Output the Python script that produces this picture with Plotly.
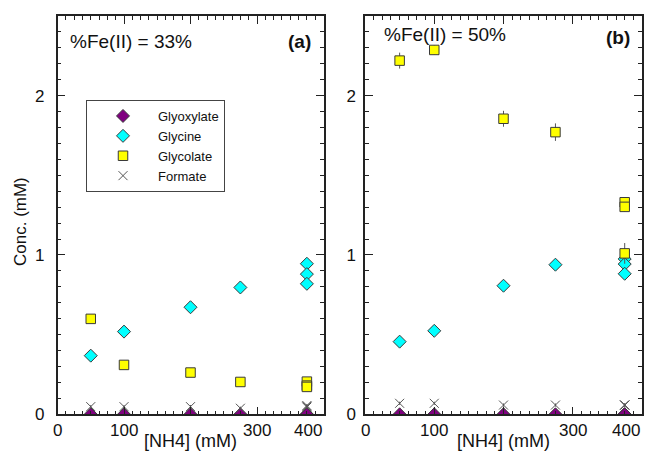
import plotly.graph_objects as go

# ---------------- data ----------------
nh4 = [50, 100, 200, 275, 375, 375, 375]

# panel (a) %Fe(II) = 33%
a_glyoxylate = [0, 0, 0, 0, 0, 0, 0]
a_glycine = [0.368, 0.519, 0.672, 0.796, 0.945, 0.880, 0.819]
a_glycolate = [0.599, 0.310, 0.262, 0.203, 0.205, 0.180, 0.172]
a_glycolate_err = [0.015, 0.015, 0.015, 0.015, 0.015, 0.015, 0.015]
a_formate = [0.048, 0.048, 0.048, 0.038, 0.055, 0.050, 0.045]
a_formate_err = [0.01, 0.01, 0.01, 0.01, 0.01, 0.01, 0.01]

# panel (b) %Fe(II) = 50%
b_glyoxylate = [0, 0, 0, 0, 0, 0, 0]
b_glycine = [0.456, 0.524, 0.807, 0.939, 0.975, 0.943, 0.882]
b_glycolate = [2.220, 2.287, 1.855, 1.771, 1.331, 1.302, 1.010]
b_glycolate_err = [0.050, 0.030, 0.050, 0.055, 0.020, 0.030, 0.065]
b_formate = [0.069, 0.069, 0.058, 0.058, 0.058, 0.058, 0.058]
b_formate_err = [0.01, 0.01, 0.01, 0.01, 0.01, 0.01, 0.01]

x_tick_vals = [0, 100, 300, 400]
x_tick_text = ["0", "100", "300", "400"]
y_tick_vals = [0, 1, 2]
y_tick_text = ["0", "1", "2"]

FONT = "Arial, Liberation Sans, sans-serif"
EDGE = "#3a3a3a"
ERRC = "#555555"

fig = go.Figure()

def add_panel(xa, ya, gx, gc, gl, gl_err, fm, fm_err, show):
    fig.add_trace(go.Scatter(
        x=nh4, y=gx, mode="markers", name="Glyoxylate", showlegend=show,
        xaxis=xa, yaxis=ya,
        marker=dict(symbol="diamond", size=10, color="#800080",
                    line=dict(color=EDGE, width=1))))
    fig.add_trace(go.Scatter(
        x=nh4, y=gc, mode="markers", name="Glycine", showlegend=show,
        xaxis=xa, yaxis=ya,
        marker=dict(symbol="diamond", size=10, color="#00FFFF",
                    line=dict(color=EDGE, width=1))))
    fig.add_trace(go.Scatter(
        x=nh4, y=gl, mode="markers", name="Glycolate", showlegend=show,
        xaxis=xa, yaxis=ya,
        error_y=dict(type="data", array=gl_err, visible=True, color=ERRC,
                     thickness=1, width=0),
        marker=dict(symbol="square", size=9.5, color="#FFFF00",
                    line=dict(color=EDGE, width=1))))
    fig.add_trace(go.Scatter(
        x=nh4, y=fm, mode="markers", name="Formate", showlegend=show,
        xaxis=xa, yaxis=ya,
        error_y=dict(type="data", array=fm_err, visible=True, color=ERRC,
                     thickness=1, width=0),
        marker=dict(symbol="x-thin-open", size=9, color="#555555",
                    line=dict(color="#555555", width=1))))

add_panel("x", "y", a_glyoxylate, a_glycine, a_glycolate, a_glycolate_err,
          a_formate, a_formate_err, True)
add_panel("x2", "y2", b_glyoxylate, b_glycine, b_glycolate, b_glycolate_err,
          b_formate, b_formate_err, False)

# the page body has an 8px margin, so the figure starts at (8, 8)
OFF = 8
W, H = 644, 445
def px_x(p):
    return (p - OFF) / W
def px_y(p):
    return 1 - (p - OFF) / H

xaxis_common = dict(range=[0, 400], tickvals=[0, 100, 200, 300, 400],
                    showticklabels=False, ticks="inside", ticklen=8,
                    tickcolor="#222", tickwidth=1,
                    minor=dict(dtick=12.5, ticks="inside", ticklen=4,
                               tickcolor="#222", tickwidth=1),
                    showline=True, linecolor="#222", linewidth=1.5,
                    mirror="allticks", showgrid=False, zeroline=False,
                    automargin=False, fixedrange=True)
yaxis_common = dict(range=[0, 2.5], tickvals=y_tick_vals, ticktext=y_tick_text,
                    ticks="inside", ticklen=8, tickcolor="#222", tickwidth=1,
                    minor=dict(dtick=0.1, ticks="inside", ticklen=4,
                               tickcolor="#222", tickwidth=1),
                    showline=True, linecolor="#222", linewidth=1.5,
                    mirror="allticks", showgrid=False, zeroline=False,
                    tickfont=dict(family=FONT, size=17, color="#111"),
                    automargin=False, fixedrange=True)

fig.update_layout(
    width=W, height=H,
    margin=dict(l=0, r=0, t=0, b=0, pad=0, autoexpand=False),
    paper_bgcolor="white", plot_bgcolor="white",
    font=dict(family=FONT, color="#111"),
    xaxis=dict(domain=[px_x(57.5), px_x(323.5)], anchor="y", **xaxis_common),
    yaxis=dict(domain=[px_y(414.3), px_y(16)], anchor="x",
               ticklabelstandoff=8, **yaxis_common),
    xaxis2=dict(domain=[px_x(365), px_x(642)], anchor="y2", **xaxis_common),
    yaxis2=dict(domain=[px_y(414.3), px_y(16)], anchor="x2",
                ticklabelstandoff=4, **yaxis_common),
    legend=dict(x=px_x(86), y=px_y(100), xanchor="left", yanchor="top",
                bordercolor="#444", borderwidth=1, bgcolor="white",
                font=dict(family=FONT, size=13, color="#111"),
                itemwidth=60, indentation=1,
                tracegroupgap=0),
    showlegend=True,
)

ann = []
# x tick labels
for xa in ["x", "x2"]:
    for v, t in zip(x_tick_vals, x_tick_text):
        ann.append(dict(x=v, y=px_y(430), xref=xa, yref="paper", text=t,
                        showarrow=False, xanchor="right" if v == 400 else "center",
                        yanchor="middle",
                        font=dict(family=FONT, size=17, color="#111")))
    ann.append(dict(x=200, y=px_y(441), xref=xa, yref="paper", text="[NH4] (mM)",
                    showarrow=False, xanchor="center", yanchor="middle",
                    font=dict(family=FONT, size=18, color="#111")))

ann += [
    dict(x=px_x(68), y=px_y(42), xref="paper", yref="paper", text="%Fe(II) = 33%",
         showarrow=False, xanchor="left", yanchor="middle",
         font=dict(family=FONT, size=19, color="#111")),
    dict(x=px_x(313), y=px_y(42), xref="paper", yref="paper", text="<b>(a)</b>",
         showarrow=False, xanchor="right", yanchor="middle",
         font=dict(family=FONT, size=19, color="#111")),
    dict(x=px_x(382), y=px_y(35), xref="paper", yref="paper", text="%Fe(II) = 50%",
         showarrow=False, xanchor="left", yanchor="middle",
         font=dict(family=FONT, size=19, color="#111")),
    dict(x=px_x(632), y=px_y(38), xref="paper", yref="paper", text="<b>(b)</b>",
         showarrow=False, xanchor="right", yanchor="middle",
         font=dict(family=FONT, size=19, color="#111")),
    dict(x=px_x(20), y=px_y(222), xref="paper", yref="paper", text="Conc. (mM)",
         showarrow=False, xanchor="center", yanchor="middle", textangle=-90,
         font=dict(family=FONT, size=17, color="#111")),
]
fig.update_layout(annotations=ann)

fig.write_html("out.html")
